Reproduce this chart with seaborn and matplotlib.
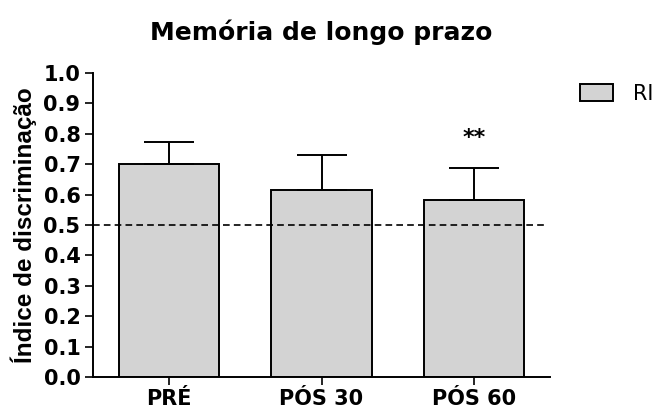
import matplotlib
matplotlib.use("Agg")
import matplotlib.pyplot as plt
import seaborn as sns
import pandas as pd
from matplotlib.patches import Patch

# Discrimination index per session (mean and upper SEM)
groups = ["PRÉ", "PÓS 30", "PÓS 60"]
means = [0.70, 0.614, 0.584]
sem_upper = [0.074, 0.117, 0.104]
significance = ["", "", "**"]
chance_level = 0.5
y_ticks = [0.0, 0.1, 0.2, 0.3, 0.4, 0.5, 0.6, 0.7, 0.8, 0.9, 1.0]

sns.set_theme(style="ticks")
plt.rcParams["font.family"] = ["DejaVu Sans"]
plt.rcParams["text.color"] = "black"
plt.rcParams["axes.labelcolor"] = "black"
plt.rcParams["xtick.color"] = "black"
plt.rcParams["ytick.color"] = "black"

df = pd.DataFrame({"grupo": groups, "indice": means})

fig = plt.figure(figsize=(6.58, 4.13), dpi=100)
ax = fig.add_axes([0.1413, 0.0872, 0.6947, 0.7358])

bar_color = "#d3d3d3"
sns.barplot(data=df, x="grupo", y="indice", color=bar_color, width=0.66,
            edgecolor="black", linewidth=1.4, errorbar=None, ax=ax, zorder=2)

# Upper-only error bars
xs = range(len(groups))
ax.errorbar(xs, means, yerr=[[0] * len(means), sem_upper], fmt="none",
            ecolor="black", elinewidth=1.4, capsize=18, capthick=1.4, zorder=3)

# Significance markers above the error bars
for x, m, e, s in zip(xs, means, sem_upper, significance):
    if s:
        ax.text(x, m + e + 0.08, s, ha="center", va="baseline",
                fontsize=16, fontweight="bold", color="black")

# Chance level reference
ax.axhline(chance_level, xmin=0, xmax=0.99, color="black", linestyle=(0, (4, 2.5)),
           linewidth=1.2, zorder=4)

ax.set_xlim(-0.5, 2.5)
ax.set_ylim(0, 1.0)
ax.set_yticks(y_ticks)
ax.set_yticklabels([f"{t:.1f}" for t in y_ticks])
ax.set_xlabel("")
ax.set_ylabel("Índice de discriminação", fontsize=17.5, fontweight="bold",
              family=["Liberation Sans", "DejaVu Sans"], labelpad=5)
ax.tick_params(axis="both", direction="out", length=6, width=1.2, color="black",
               labelcolor="black", labelsize=15)
for lab in ax.get_xticklabels() + ax.get_yticklabels():
    lab.set_fontweight("bold")
ax.tick_params(axis="x", pad=3)
ax.tick_params(axis="y", pad=3)

for side in ["top", "right"]:
    ax.spines[side].set_visible(False)
for side in ["left", "bottom"]:
    ax.spines[side].set_linewidth(1.4)
    ax.spines[side].set_color("black")

ax.set_title("Memória de longo prazo", fontsize=18, fontweight="bold",
             color="black", pad=24)

handle = Patch(facecolor=bar_color, edgecolor="black", linewidth=1.4)
fig.legend([handle], ["RI"], loc="center left", bbox_to_anchor=(0.8815, 0.7724),
           frameon=False, fontsize=15, handlelength=1.6, handleheight=0.87,
           handletextpad=0.95, borderpad=0, borderaxespad=0, labelcolor="black")

fig.savefig("out.png", dpi=100)
